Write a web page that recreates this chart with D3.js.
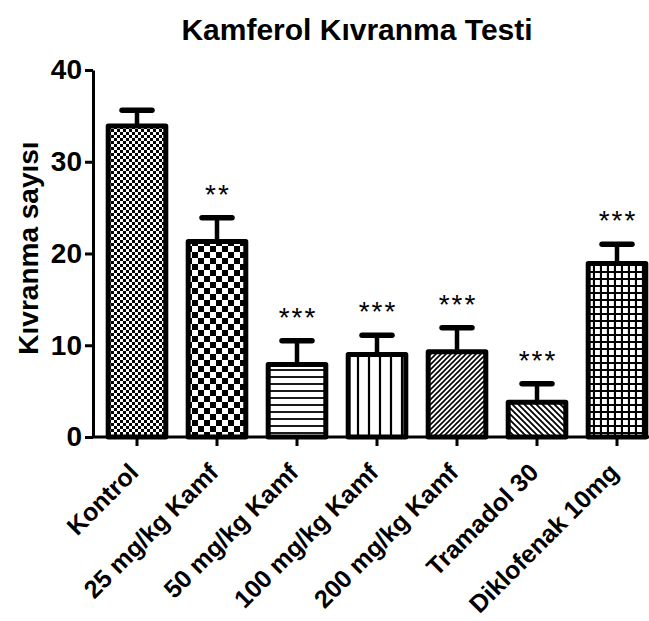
<!DOCTYPE html>
<html lang="tr">
<head>
<meta charset="utf-8">
<title>Kamferol Kıvranma Testi</title>
<script src="https://cdn.jsdelivr.net/npm/d3@7"></script>
<style>
  body { margin: 0; background: #fff; }
  text { font-family: "Liberation Sans", Arial, sans-serif; font-weight: bold; }
</style>
</head>
<body>
<svg id="chart" width="649" height="621"></svg>
<script>
// data
var groups = ["Kontrol", "25 mg/kg Kamf", "50 mg/kg Kamf", "100 mg/kg Kamf",
              "200 mg/kg Kamf", "Tramadol 30", "Diklofenak 10mg"];
var means = [33.9, 21.3, 7.9, 9.0, 9.3, 3.8, 18.9];
var sems  = [1.7, 2.6, 2.6, 2.1, 2.6, 2.0, 2.1];
var stars = ["", "**", "***", "***", "***", "***", "***"];
var yTicks = [0, 10, 20, 30, 40];

var svg = d3.select("#chart");
var defs = svg.append("defs");

// fill patterns, one per bar
function pat(id, size) {
  var p = defs.append("pattern").attr("id", id)
    .attr("patternUnits", "userSpaceOnUse")
    .attr("width", size).attr("height", size);
  p.append("rect").attr("width", size).attr("height", size).attr("fill", "#fff");
  return p;
}
var p;
p = pat("p0", 6);
p.append("rect").attr("width", 3).attr("height", 3).attr("fill", "#000");
p.append("rect").attr("x", 3).attr("y", 3).attr("width", 3).attr("height", 3).attr("fill", "#000");

p = pat("p1", 12);
p.append("rect").attr("width", 6).attr("height", 6).attr("fill", "#000");
p.append("rect").attr("x", 6).attr("y", 6).attr("width", 6).attr("height", 6).attr("fill", "#000");

p = pat("p2", 7);
p.append("line").attr("x1", 0).attr("x2", 7).attr("y1", 6).attr("y2", 6)
  .attr("stroke", "#000").attr("stroke-width", 1.8);

p = pat("p3", 11);
p.append("line").attr("x1", 6).attr("x2", 6).attr("y1", 0).attr("y2", 11)
  .attr("stroke", "#000").attr("stroke-width", 2.2);

p = pat("p4", 5);
p.append("path").attr("d", "M-1,6 L6,-1 M-1,1 L1,-1 M4,6 L6,4")
  .attr("stroke", "#000").attr("stroke-width", 1.6);

p = pat("p5", 6);
p.append("path").attr("d", "M-1,-1 L7,7 M5,-1 L7,1 M-1,5 L1,7")
  .attr("stroke", "#000").attr("stroke-width", 1.8);

p = pat("p6", 7);
p.append("path").attr("d", "M0,6 H7 M6,0 V7")
  .attr("stroke", "#000").attr("stroke-width", 2.2);

var x = d3.scaleBand().domain(groups).range([97, 657])
  .paddingInner(0.28).paddingOuter(0.14);
var y = d3.scaleLinear().domain([0, 40]).range([437, 70]);

// title
svg.append("text").attr("x", 357).attr("y", 40)
  .attr("text-anchor", "middle").style("font-size", "30px")
  .text("Kamferol Kıvranma Testi");

// y axis label
svg.append("text")
  .attr("transform", "translate(38,248) rotate(-90)")
  .attr("text-anchor", "middle").style("font-size", "28px")
  .text("Kıvranma sayısı");

// bars
var g = svg.append("g");
g.selectAll("rect.bar").data(groups).enter().append("rect")
  .attr("class", "bar")
  .attr("x", function(d) { return x(d); })
  .attr("width", x.bandwidth())
  .attr("y", function(d, i) { return y(means[i]); })
  .attr("height", function(d, i) { return y(0) - y(means[i]); })
  .attr("fill", function(d, i) { return "url(#p" + i + ")"; })
  .attr("stroke", "#000").attr("stroke-width", 5)
  .attr("stroke-linejoin", "round");

// error bars (upper only)
g.selectAll("line.err").data(groups).enter().append("line")
  .attr("class", "err")
  .attr("x1", function(d) { return x(d) + x.bandwidth() / 2; })
  .attr("x2", function(d) { return x(d) + x.bandwidth() / 2; })
  .attr("y1", function(d, i) { return y(means[i]) - 2; })
  .attr("y2", function(d, i) { return y(means[i] + sems[i]); })
  .attr("stroke", "#000").attr("stroke-width", 4.5);
g.selectAll("line.cap").data(groups).enter().append("line")
  .attr("class", "cap")
  .attr("x1", function(d) { return x(d) + x.bandwidth() / 2 - 15; })
  .attr("x2", function(d) { return x(d) + x.bandwidth() / 2 + 15; })
  .attr("y1", function(d, i) { return y(means[i] + sems[i]); })
  .attr("y2", function(d, i) { return y(means[i] + sems[i]); })
  .attr("stroke", "#000").attr("stroke-width", 5.5).attr("stroke-linecap", "round");

// significance stars
g.selectAll("text.sig").data(groups).enter().append("text")
  .attr("class", "sig")
  .attr("x", function(d) { return x(d) + x.bandwidth() / 2 + 1; })
  .attr("y", function(d, i) { return y(means[i] + sems[i]) - 14; })
  .attr("text-anchor", "middle")
  .style("font-size", "28px").style("font-weight", "normal")
  .style("letter-spacing", "2px")
  .text(function(d, i) { return stars[i]; });

// y axis
var yAxis = svg.append("g").attr("transform", "translate(93,0)")
  .call(d3.axisLeft(y).tickValues(yTicks).tickSize(8).tickSizeOuter(0).tickPadding(3));
yAxis.select(".domain").attr("stroke-width", 3);
yAxis.selectAll(".tick line").attr("stroke-width", 3);
yAxis.selectAll(".tick text").style("font-size", "28px").attr("fill", "#000");

// x axis
svg.append("line").attr("x1", 92).attr("x2", 649)
  .attr("y1", 437).attr("y2", 437)
  .attr("stroke", "#000").attr("stroke-width", 3);
var xAxis = svg.append("g").attr("transform", "translate(0,437)")
  .call(d3.axisBottom(x).tickSize(9).tickSizeOuter(0));
xAxis.select(".domain").remove();
xAxis.selectAll(".tick line").attr("stroke-width", 3);
xAxis.selectAll(".tick text")
  .attr("text-anchor", "end")
  .attr("transform", "translate(3,37) rotate(-45)")
  .attr("y", 0).attr("dy", 0)
  .style("font-size", "25px").attr("fill", "#000");
</script>
</body>
</html>
